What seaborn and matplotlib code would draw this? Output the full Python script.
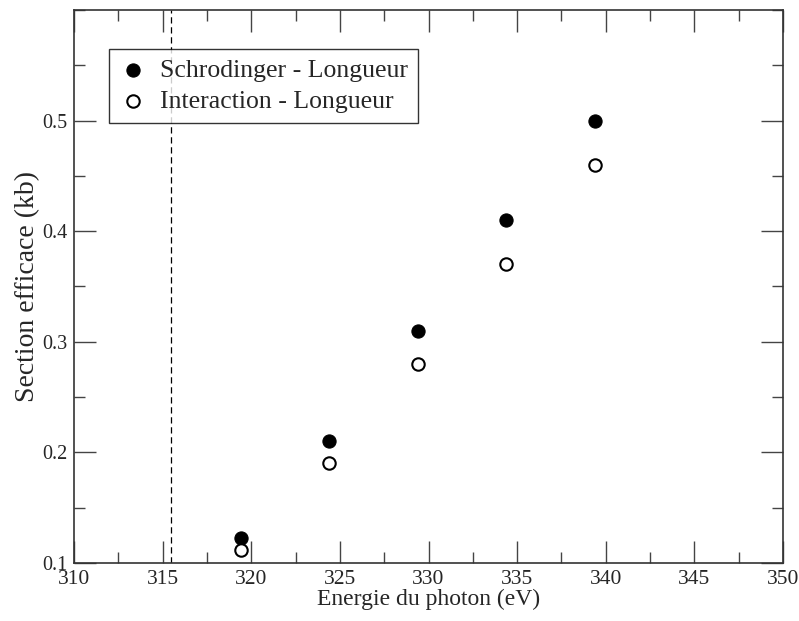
import matplotlib
matplotlib.use("Agg")
import matplotlib.pyplot as plt
import seaborn as sns
import pandas as pd
from matplotlib.ticker import MultipleLocator

# =========================
# Données
# =========================

energie = [319.4, 324.4, 329.4, 334.4, 339.4]
schrodinger = [0.123, 0.21, 0.31, 0.41, 0.50]
interaction = [0.112, 0.19, 0.28, 0.37, 0.46]
seuil = 315.5

df = pd.DataFrame({"energie": energie,
                   "schrodinger": schrodinger,
                   "interaction": interaction})

# =========================
# Style
# =========================

sns.set_style("ticks")
plt.rcParams["font.family"] = ["Liberation Serif", "DejaVu Serif"]

fig = plt.figure(figsize=(7.99, 6.21), dpi=100)
ax = fig.add_axes([0.0926, 0.0934, 0.8874, 0.8906])

sns.scatterplot(data=df, x="energie", y="schrodinger", ax=ax,
                color="black", s=90, edgecolor="black", linewidth=0.8,
                label="Schrodinger - Longueur", zorder=3)
sns.scatterplot(data=df, x="energie", y="interaction", ax=ax,
                facecolor="white", s=80, edgecolor="black", linewidth=1.5,
                label="Interaction - Longueur", zorder=3)

ax.axvline(seuil, color="black", linestyle=(0, (5, 3)), linewidth=0.9)

ax.set_xlim(310, 350)
ax.set_ylim(0.1, 0.6)
ax.xaxis.set_major_locator(MultipleLocator(5))
ax.xaxis.set_minor_locator(MultipleLocator(2.5))
ax.yaxis.set_minor_locator(MultipleLocator(0.05))
ax.set_yticks([0.1, 0.2, 0.3, 0.4, 0.5])
ax.set_yticklabels(["0.1", "0.2", "0.3", "0.4", "0.5"])

ax.tick_params(which="both", direction="in", top=True, right=True,
               width=1, color="#444444")
ax.tick_params(axis="x", labelsize=15.5)
ax.tick_params(axis="y", labelsize=14.5)
ax.tick_params(which="major", length=16, pad=5)
ax.tick_params(which="minor", length=8)
for s in ax.spines.values():
    s.set_linewidth(1.2)
    s.set_color("#333333")

ax.set_xlabel("Energie du photon (eV)", fontsize=17, labelpad=0)
ax.set_ylabel("Section efficace (kb)", fontsize=20, labelpad=1)

leg = ax.legend(loc="upper left", bbox_to_anchor=(0.049, 0.93),
                fontsize=18.5, frameon=True, fancybox=False,
                edgecolor="black", handletextpad=0.5, borderpad=0.4,
                labelspacing=0.3, handlelength=1.1, borderaxespad=0)
leg.get_frame().set_linewidth(1.0)

plt.savefig("out.png", dpi=100)
